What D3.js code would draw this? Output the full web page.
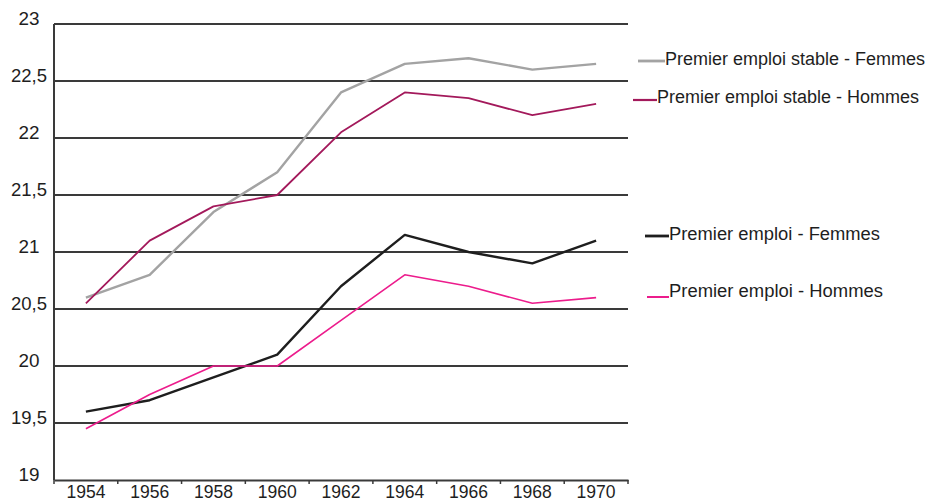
<!DOCTYPE html>
<html><head><meta charset="utf-8">
<script src="https://cdn.jsdelivr.net/npm/d3@7"></script>
<style>
body{margin:0;background:#fff;}
text{font-family:"Liberation Sans",Arial,Helvetica,sans-serif;fill:#1e1e1e;}
</style></head>
<body>
<svg id="c" width="935" height="504"></svg>
<script>
const years = [1954,1956,1958,1960,1962,1964,1966,1968,1970];
const stableFemmes = [20.6,20.8,21.35,21.7,22.4,22.65,22.7,22.6,22.65];
const stableHommes = [20.55,21.1,21.4,21.5,22.05,22.4,22.35,22.2,22.3];
const premierFemmes = [19.6,19.7,19.9,20.1,20.7,21.15,21.0,20.9,21.1];
const premierHommes = [19.45,19.75,20.0,20.0,20.4,20.8,20.7,20.55,20.6];
const yTicks = [19,19.5,20,20.5,21,21.5,22,22.5,23];
const seriesNames = ["Premier emploi stable - Femmes","Premier emploi stable - Hommes","Premier emploi - Femmes","Premier emploi - Hommes"];
const seriesColors = ["#a3a3a3","#a3195b","#1e1e1e","#ec1c8c"];

const svg = d3.select("#c");
const pL=54, pR=628, pT=24, pB=480;
const x = d3.scaleBand().domain(years).range([pL,pR]);
const y = d3.scaleLinear().domain([19,23]).range([pB,pT]);
const fmt = v => String(v).replace(".",",");
const FS = 19;

// gridlines
svg.append("g").selectAll("line").data(yTicks.slice(1)).join("line")
  .attr("x1",pL).attr("x2",pR).attr("y1",d=>y(d)).attr("y2",d=>y(d))
  .attr("stroke","#3a3a3a").attr("stroke-width",2);

// y axis line
svg.append("line").attr("x1",pL).attr("x2",pL).attr("y1",pT).attr("y2",pB)
  .attr("stroke","#3a3a3a").attr("stroke-width",2);

// y labels
svg.append("g").selectAll("text").data(yTicks).join("text")
  .attr("x",29).attr("y",d=>y(d)-4).attr("text-anchor","middle")
  .attr("dominant-baseline","middle").attr("font-size",FS)
  .attr("textLength",d=>fmt(d).length>2?36:21).attr("lengthAdjust","spacingAndGlyphs")
  .text(fmt);

// x axis
const xAxis = d3.axisBottom(x).tickSize(0).tickFormat(d=>d);
const gx = svg.append("g").attr("transform",`translate(0,${pB})`).call(xAxis);
gx.select(".domain").attr("stroke","#3a3a3a").attr("stroke-width",2);
gx.selectAll("text").attr("font-size",FS).attr("dy",null).attr("y",13)
  .attr("dominant-baseline","middle").attr("fill","#1e1e1e")
  .attr("font-family",'"Liberation Sans",Arial,sans-serif')
  .attr("textLength",39).attr("lengthAdjust","spacingAndGlyphs");
// boundary ticks
const bounds = years.map(d=>x(d)).concat([pR]);
svg.append("g").selectAll("line").data(bounds).join("line")
  .attr("x1",d=>d).attr("x2",d=>d).attr("y1",pB).attr("y2",pB+4)
  .attr("stroke","#3a3a3a").attr("stroke-width",1.5);

// lines
const allSeries = [stableFemmes,stableHommes,premierFemmes,premierHommes];
const widths = [2.4,1.8,2.4,1.6];
const line = d3.line().x((d,i)=>x(years[i])+x.bandwidth()/2).y(d=>y(d));
svg.append("g").selectAll("path").data(allSeries).join("path")
  .attr("d",line).attr("fill","none")
  .attr("stroke",(d,i)=>seriesColors[i]).attr("stroke-width",(d,i)=>widths[i])
  .attr("stroke-linejoin","round");

// legend
const legend = [
  {x1:638,x2:665,y:61,ty:60,len:260},
  {x1:633,x2:657,y:100,ty:98,len:262},
  {x1:645,x2:669,y:236,ty:235,len:211},
  {x1:647,x2:669,y:297,ty:292,len:214}
];
const LFS = 17, sy = 19/17;
legend.forEach((l,i)=>{
  svg.append("line").attr("x1",l.x1).attr("x2",l.x2).attr("y1",l.y).attr("y2",l.y)
    .attr("stroke",seriesColors[i]).attr("stroke-width",widths[i]+0.4);
  svg.append("g").attr("transform",`translate(${l.x2},${l.ty}) scale(1,${sy})`)
    .append("text").attr("x",0).attr("y",0).attr("dominant-baseline","middle")
    .attr("font-size",LFS).attr("textLength",l.len).attr("lengthAdjust","spacingAndGlyphs")
    .text(seriesNames[i]);
});
</script>
</body></html>
